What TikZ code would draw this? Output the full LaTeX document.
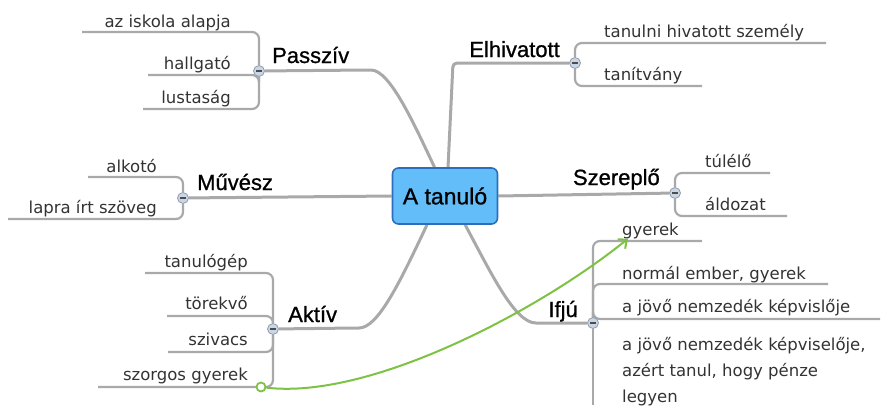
\documentclass[tikz,border=0pt]{standalone}
\usepackage{fontspec}
\setmainfont{Liberation Sans}
\newfontfamily\leaffont{DejaVu Sans}
\newfontfamily\topicfont{Liberation Sans}[FakeBold=0.9]
\usetikzlibrary{arrows.meta}
\usetikzlibrary{backgrounds}
\definecolor{linegray}{HTML}{A9A9A9}
\definecolor{rootblue}{HTML}{62BDF8}
\definecolor{rootedge}{HTML}{2D6CBE}
\definecolor{knobfill}{HTML}{CAD6E3}
\definecolor{knobedge}{HTML}{8E9CAE}
\definecolor{linkgreen}{HTML}{7DC242}
\tikzset{
    root/.style = {rectangle, rounded corners=6pt, draw=rootedge, line width=1.6pt, fill=rootblue, minimum width=105pt, minimum height=56pt, text=black, font=\topicfont\fontsize{23}{26}\selectfont},
    topicl/.style = {anchor=base west, inner sep=0pt, text=black, font=\topicfont\fontsize{22}{26}\selectfont},
    topicr/.style = {anchor=base east, inner sep=0pt, text=black, font=\topicfont\fontsize{22}{26}\selectfont},
    leafl/.style = {anchor=base east, inner sep=0pt, text=black!80, font=\leaffont\fontsize{16.5}{26}\selectfont},
    leafr/.style = {anchor=base west, inner sep=0pt, text=black!80, align=left, font=\leaffont\fontsize{16.5}{26}\selectfont},
    knob/.style = {circle, draw=knobedge, line width=0.8pt, fill=knobfill, minimum size=11pt, inner sep=0pt,
        path picture={\draw[black!70,line width=1.1pt] ([xshift=-2.6pt]path picture bounding box.center) -- ([xshift=2.6pt]path picture bounding box.center);}},
    gdot/.style = {circle, draw=linkgreen, line width=1.8pt, fill=white, minimum size=9pt, inner sep=0pt},
    edgem/.style = {line width=3pt, linegray, rounded corners=4pt}, % main branch
    edgec/.style = {line width=2.2pt, linegray, rounded corners=7pt}, % leaf
    edgel/.style = {line width=2pt, linkgreen, -{Straight Barb[length=7pt,width=12pt,line width=2pt]}} % link
}

\begin{document}
\begin{tikzpicture}[x=1pt,y=-1pt]
\useasboundingbox (0,0) rectangle (887,405);
\node[root] at (445,196) (root) {A tanuló};
%
\node[knob] at (259,71) (kpas) {};
\node[knob] at (575,63) (kelh) {};
\node[knob] at (183,198) (kmu) {};
\node[knob] at (675,193) (ksz) {};
\node[knob] at (273,329) (kak) {};
\node[knob] at (593,323) (kif) {};
%
\node[topicl] at (272,63) (passziv) {Passzív};
\node[topicr] at (560,57) (elhiv) {Elhivatott};
\node[topicl] at (197,190) (muvesz) {Művész};
\node[topicr] at (660,185) (szereplo) {Szereplő};
\node[topicl] at (288,322) (aktiv) {Aktív};
\node[topicr] at (578,317) (ifju) {Ifjú};
%
\node[leafl] at (231,27) (az) {az iskola alapja};
\node[leafl] at (231,69) (hal) {hallgató};
\node[leafl] at (231,103) (lus) {lustaság};
\node[leafr] at (604,37) (tan) {tanulni hivatott személy};
\node[leafr] at (604,80) (tnv) {tanítvány};
\node[leafl] at (157,172) (alk) {alkotó};
\node[leafl] at (157,213) (lap) {lapra írt szöveg};
\node[leafr] at (705,167) (tul) {túlélő};
\node[leafr] at (705,210) (ald) {áldozat};
\node[leafl] at (248,267) (tgp) {tanulógép};
\node[leafl] at (248,309) (tor) {törekvő};
\node[leafl] at (248,345) (szi) {szivacs};
\node[leafl] at (248,380) (szo) {szorgos gyerek};
\node[leafr] at (622,235) (gy) {gyerek};
\node[leafr] at (622,279) (nor) {normál ember, gyerek};
\node[leafr] at (622,312) (jov) {a jövő nemzedék képvislője};
\node[leafr] at (622,402) (jov2) {a jövő nemzedék képviselője,\\azért tanul, hogy pénze\\legyen};
%
\coordinate (az-e) at (82,32);
\coordinate (hal-e) at (148,75);
\coordinate (lus-e) at (143,109);
\coordinate (tan-e) at (826,43);
\coordinate (tnv-e) at (702,86);
\coordinate (alk-e) at (88,177);
\coordinate (lap-e) at (8,219);
\coordinate (tul-e) at (770,173);
\coordinate (ald-e) at (787,216);
\coordinate (tgp-e) at (145,273);
\coordinate (tor-e) at (167,316);
\coordinate (szi-e) at (168,352);
\coordinate (szo-e) at (98,387);
\coordinate (gy-e) at (702,241);
\coordinate (nor-e) at (828,284);
\coordinate (jov-e) at (880,319);
\coordinate (jov2-e) at (593,405);
%
\begin{scope}[on background layer]
\draw[edgem] (kpas) -- (367,70) .. controls (390,70) and (414,124) .. (root.110);
\draw[edgem] (root.84) -- (453,63) -- (kelh);
\draw[edgem] (root.west) -- (kmu);
\draw[edgem] (root.east) -- (ksz);
\draw[edgem] (root.-122) .. controls (400,282) and (378,328) .. (355,328) -- (kak);
\draw[edgem] (root.-55) .. controls (492,275) and (515,323) .. (540,323) -- (kif);
%
\draw[edgec] (az-e) -- (az-e -| kpas) -- (kpas);
\draw[edgec] (hal-e) -- (hal-e -| kpas) -- (kpas);
\draw[edgec] (lus-e) -- (lus-e -| kpas) -- (kpas);
\draw[edgec] (kelh) -- (kelh |- tan-e) -- (tan-e);
\draw[edgec] (kelh) -- (kelh |- tnv-e) -- (tnv-e);
\draw[edgec] (alk-e) -- (alk-e -| kmu) -- (kmu);
\draw[edgec] (lap-e) -- (lap-e -| kmu) -- (kmu);
\draw[edgec] (ksz) -- (ksz |- tul-e) -- (tul-e);
\draw[edgec] (ksz) -- (ksz |- ald-e) -- (ald-e);
\draw[edgec] (tgp-e) -- (tgp-e -| kak) -- (kak);
\draw[edgec] (tor-e) -- (tor-e -| kak) -- (kak);
\draw[edgec] (szi-e) -- (szi-e -| kak) -- (kak);
\draw[edgec] (szo-e) -- (szo-e -| kak) -- (kak);
\draw[edgec] (kif) -- (kif |- gy-e) -- (gy-e);
\draw[edgec] (kif) -- (kif |- nor-e) -- (nor-e);
\draw[edgec] (kif) -- (kif |- jov-e) -- (jov-e);
\draw[edgec] (kif) -- (jov2-e);
\end{scope}
%
\node[gdot] at (261,387) (link) {};
\draw[edgel] (link) .. controls (370,400) and (540,310) .. ([xshift=6pt]gy.south west);
\end{tikzpicture}
\end{document}
